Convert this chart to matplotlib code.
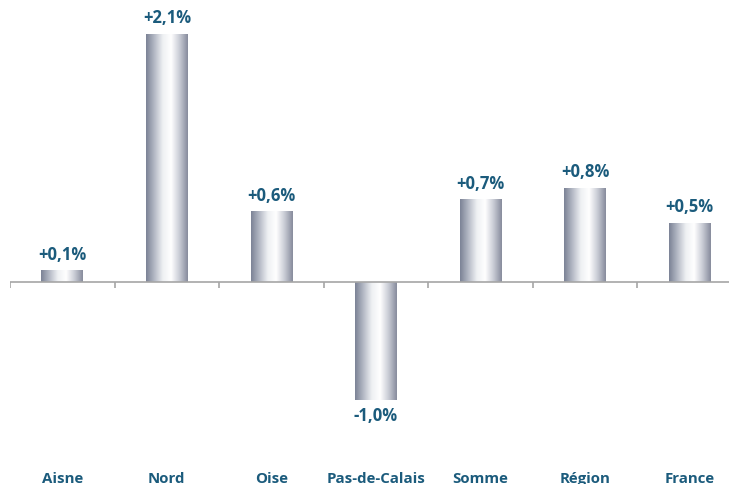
import matplotlib.pyplot as plt
import numpy as np
from matplotlib.colors import LinearSegmentedColormap

categories = ["Aisne", "Nord", "Oise", "Pas-de-Calais", "Somme", "Région", "France"]
values = [0.1, 2.1, 0.6, -1.0, 0.7, 0.8, 0.5]
labels = ["+0,1%", "+2,1%", "+0,6%", "-1,0%", "+0,7%", "+0,8%", "+0,5%"]

text_color = "#1b5b7c"
plt.rcParams['font.family'] = ['Open Sans', 'DejaVu Sans']

fig = plt.figure(figsize=(7.29, 4.85), dpi=100)
# axes spans a bit past the right edge, like the original
ax = fig.add_axes([10 / 729, 0, 732 / 729, 1])
ax.axis("off")

# metallic gradient for the bars
metal = LinearSegmentedColormap.from_list(
    "metal", ["#7b8295", "#b4b9c5", "#eef0f3", "#ffffff", "#c9ccd5", "#868b9c"])
grad = np.linspace(0, 1, 256).reshape(1, -1)

width = 0.4
x = np.arange(len(categories))
bars = ax.bar(x, values, width=width, color="none", edgecolor="none")
for b in bars:
    x0 = b.get_x()
    y0 = min(b.get_y(), b.get_y() + b.get_height())
    y1 = max(b.get_y(), b.get_y() + b.get_height())
    im = ax.imshow(grad, cmap=metal, aspect="auto", extent=(x0, x0 + width, y0, y1),
                   interpolation="bicubic", zorder=2)
    im.set_clip_path(b)

ax.set_xlim(-0.5, 6.5)
ax.set_ylim(-1.712, 2.398)

# zero line and tick marks between categories
ax.axhline(0, color="#a6a6a6", lw=1.2, zorder=3)
ax.vlines(np.arange(-0.5, 7, 1), -0.05, 0, color="#a6a6a6", lw=1.2, zorder=3)

for xi, v, lab in zip(x, values, labels):
    if v >= 0:
        ax.text(xi, v + 0.065, lab, ha="center", va="bottom", fontsize=12,
                fontweight="bold", color=text_color)
    else:
        ax.text(xi, v - 0.055, lab, ha="center", va="top", fontsize=12,
                fontweight="bold", color=text_color)

for xi, c in zip(x, categories):
    ax.text(xi, -1.665, c, ha="center", va="center", fontsize=10.8,
            fontweight="bold", color=text_color)

fig.savefig("out.png", dpi=100)
